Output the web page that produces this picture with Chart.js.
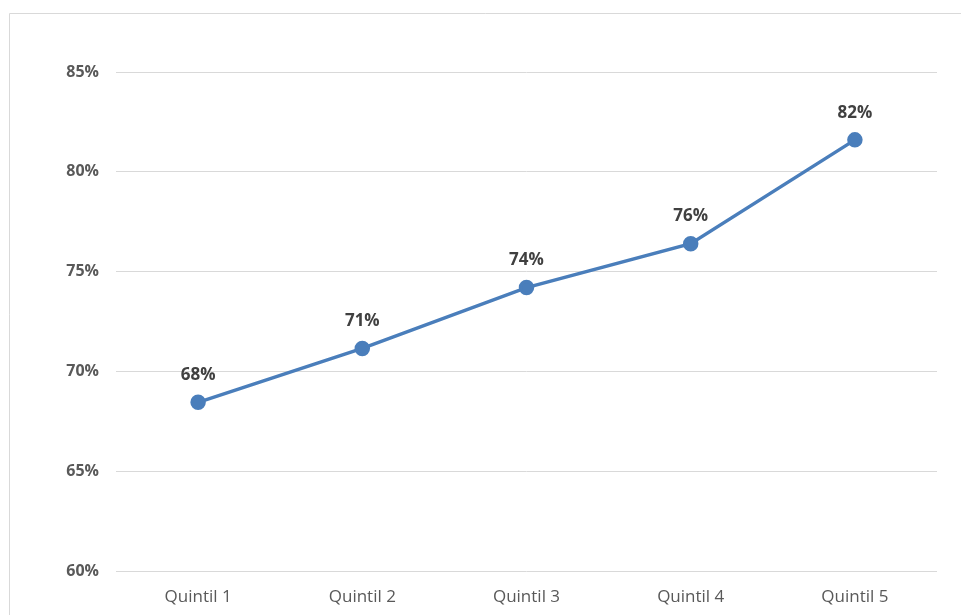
<!DOCTYPE html>
<html lang="en">
<head>
  <meta charset="UTF-8">
  <title>Quintiles</title>
  <script src="https://cdn.jsdelivr.net/npm/chart.js"></script>
  <style>
    html, body { margin: 0; padding: 0; background: #fff; }
    #wrap { width: 961px; height: 615px; position: relative; }
  </style>
</head>
<body>
  <div id="wrap"><canvas id="quintilChart"></canvas></div>

  <script>
    var categories = ['Quintil 1', 'Quintil 2', 'Quintil 3', 'Quintil 4', 'Quintil 5'];
    var shares = [68.45, 71.15, 74.2, 76.4, 81.6];
    var yTicks = [60, 65, 70, 75, 80, 85];

    // light frame around the plot, like a spreadsheet chart box
    var framePlugin = {
      id: 'frame',
      beforeDraw: function(chart) {
        var ctx = chart.ctx;
        ctx.save();
        ctx.strokeStyle = '#d9d9d9';
        ctx.lineWidth = 1;
        ctx.beginPath();
        ctx.moveTo(9.5, chart.height + 5);
        ctx.lineTo(9.5, 13.5);
        ctx.lineTo(chart.width + 5, 13.5);
        ctx.stroke();
        ctx.restore();
      }
    };

    // percentage above each point
    var valueLabels = {
      id: 'valueLabels',
      afterDatasetsDraw: function(chart) {
        var ctx = chart.ctx;
        var meta = chart.getDatasetMeta(0);
        ctx.save();
        ctx.font = 'bold 17px "Open Sans"';
        ctx.fillStyle = '#404040';
        ctx.textAlign = 'center';
        ctx.textBaseline = 'middle';
        meta.data.forEach(function(pt, i) {
          var v = chart.data.datasets[0].data[i];
          ctx.fillText(Math.round(v) + '%', pt.x, pt.y - 27);
        });
        ctx.restore();
      }
    };

    new Chart(document.getElementById('quintilChart'), {
      type: 'line',
      data: {
        labels: categories,
        datasets: [{
          data: shares,
          borderColor: '#4a7ebb',
          backgroundColor: '#4a7ebb',
          borderWidth: 3.5,
          pointRadius: 6,
          pointHoverRadius: 6,
          tension: 0,
          fill: false
        }]
      },
      options: {
        responsive: true,
        maintainAspectRatio: false,
        animation: false,
        layout: { padding: { left: 0, right: 24, top: 72, bottom: 0 } },
        plugins: {
          legend: { display: false },
          tooltip: { enabled: false }
        },
        scales: {
          x: {
            offset: true,
            grid: { display: false, drawTicks: false },
            border: { display: false },
            ticks: {
              padding: 16,
              color: '#595959',
              font: { family: 'Open Sans', size: 17 }
            },
            afterFit: function(scale) { scale.height = 44; }
          },
          y: {
            min: 60,
            max: 85,
            afterBuildTicks: function(scale) {
              scale.ticks = yTicks.map(function(v) { return { value: v }; });
            },
            grid: { color: '#d9d9d9', drawTicks: false, lineWidth: 1 },
            border: { display: false },
            ticks: {
              padding: 17,
              color: '#595959',
              font: { family: 'Open Sans', size: 16, weight: 'bold' },
              callback: function(v) { return v + '%'; }
            },
            afterFit: function(scale) { scale.width = 116; }
          }
        }
      },
      plugins: [framePlugin, valueLabels]
    });
  </script>
</body>
</html>
